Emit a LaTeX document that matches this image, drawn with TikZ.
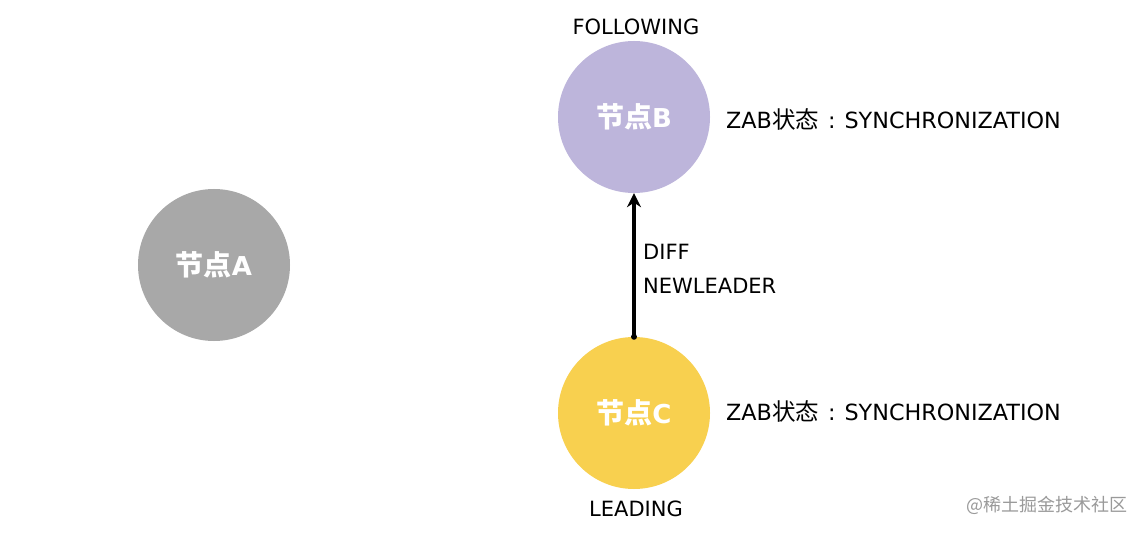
\documentclass[tikz,border=0pt]{standalone}
\usepackage{fontspec}
\setmainfont{DejaVu Sans}
\newfontfamily\cjk{Noto Sans CJK TC}
\newfontfamily\cjkb{Noto Sans CJK SC Bold}
\usetikzlibrary{arrows.meta}
\definecolor{nodeA}{HTML}{A8A8A8}
\definecolor{nodeB}{HTML}{BDB5DB}
\definecolor{nodeC}{HTML}{F8D04F}
\definecolor{wm}{HTML}{9A9A9A}
\tikzset{
  zknode/.style={circle, minimum size=152pt, inner sep=0pt, text=white,
    font=\fontsize{26}{30}\selectfont\bfseries},
  lbl/.style={font=\fontsize{21}{24}\selectfont, text=black, inner sep=0pt},
  zab/.style={font=\fontsize{22.3}{24}\selectfont, text=black, inner sep=0pt, anchor=west},
  conn/.style={line width=3.2pt, -{Stealth[length=14pt,width=14pt]}},
}
\newcommand{\zabtext}{ZAB{\cjk\fontsize{23.5}{24}\selectfont 状态}\hspace{9pt}:\hspace{9pt}SYNCHRONIZATION}
\newcommand{\jd}{{\cjkb\fontsize{28}{30}\selectfont 节点}}
\begin{document}
\begin{tikzpicture}[x=1pt,y=-1pt]
\useasboundingbox (0,0) rectangle (1142,534);
\fill[white] (0,0) rectangle (1142,534);
\node[zknode, fill=nodeA] (A) at (214,265) {\jd A};
\node[zknode, fill=nodeB] (B) at (634,117) {\jd B};
\node[zknode, fill=nodeC] (C) at (634,413) {\jd C};
\node[lbl] (fol) at (636,27) {FOLLOWING};
\node[lbl] (lead) at (636,509) {LEADING};
\node[lbl, anchor=west] (diff) at (643,252) {DIFF};
\node[lbl, anchor=west] (nl) at (643,286) {NEWLEADER};
\node[zab] (zb) at (726,120) {\zabtext};
\node[zab] (zc) at (726,411) {\zabtext};
\node[font=\fontsize{18}{20}\selectfont\cjk, text=wm, anchor=east, inner sep=0pt] (wmk) at (1128,505) {@稀土掘金技术社区};
\fill (C.north) circle (3pt);
\draw[conn] (C.north) -- (B.south);
\end{tikzpicture}
\end{document}
